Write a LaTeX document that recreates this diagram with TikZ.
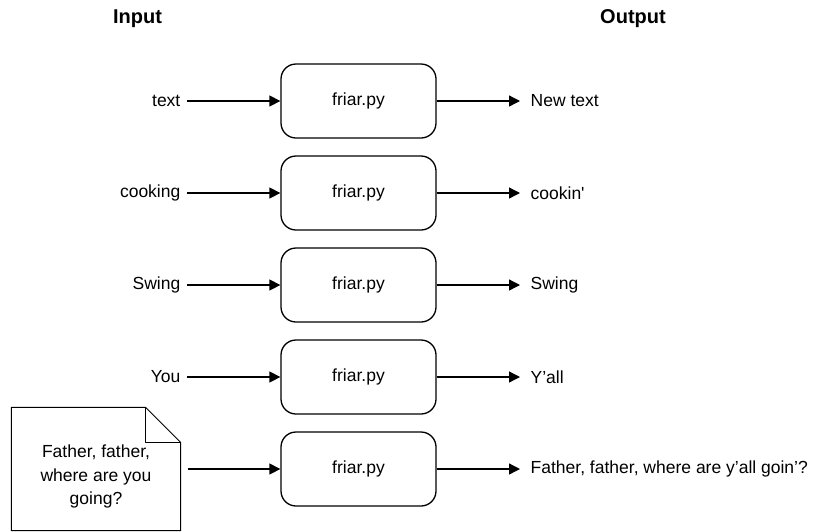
\documentclass[tikz,border=0pt]{standalone}
\usepackage{fontspec}
\setmainfont{Liberation Sans}
\usetikzlibrary{arrows.meta,calc,positioning}

\begin{document}
\begin{tikzpicture}[>={Triangle[length=11pt,width=11pt]}, x=1pt, y=-1pt,
        line width=1.3pt, font=\fontsize{17.5}{23.5}\selectfont,
        friar/.style={draw, rounded corners=15pt, minimum width=155pt, minimum height=74pt, inner sep=0pt},
        inlabel/.style={anchor=east, inner xsep=6pt, inner ysep=0pt},
        outlabel/.style={anchor=west, inner xsep=10pt, inner ysep=0pt},
        title/.style={font=\fontsize{20}{24}\selectfont\bfseries}]
        \useasboundingbox (0,0) rectangle (824,531);

        \node[title] (intitle) at (137.5,19) {Input};
        \node[title] (outtitle) at (633,19) {Output};

        % one row per word
        \foreach \y/\word/\said/\n in {101/text/New text/1, 193/cooking/cookin\textquotesingle/2, 285/Swing/Swing/3, 377/You/Y’all/4}{
            \node[inlabel] (in\n) at (187,\y) {\word};
            \node[friar] (box\n) at (358.5,\y) {friar.py};
            \node[outlabel] (out\n) at (520,\y) {\said};
            \draw[->] (in\n) -- (box\n);
            \draw[->] (box\n) -- (out\n);
        }

        % last row starts from a note
        \node[minimum width=168pt, minimum height=122pt, inner sep=0pt] (note) at (96,469) {};
        \draw[line width=1pt, line join=round] (note.north west) -- ($(note.north east)+(-35,0)$) -- ($(note.north east)+(0,35)$)
            -- (note.south east) -- (note.south west) -- cycle;
        \draw[line width=1pt, line join=round] ($(note.north east)+(-35,0)$) -- ($(note.north east)+(-35,35)$) -- ($(note.north east)+(0,35)$);
        \node[align=center] (notetext) at ($(note.center)+(0,7.5)$) {Father, father,\\where are you\\going?};
        \coordinate (notestart) at ($(note.east)+(7,0)$);
        \node[friar] (box5) at (358.5,469) {friar.py};
        \node[outlabel] (out5) at (520,469) {Father, father, where are y’all goin’?};
        \draw[->] (notestart) -- (box5);
        \draw[->] (box5) -- (out5);
\end{tikzpicture}
\end{document}
